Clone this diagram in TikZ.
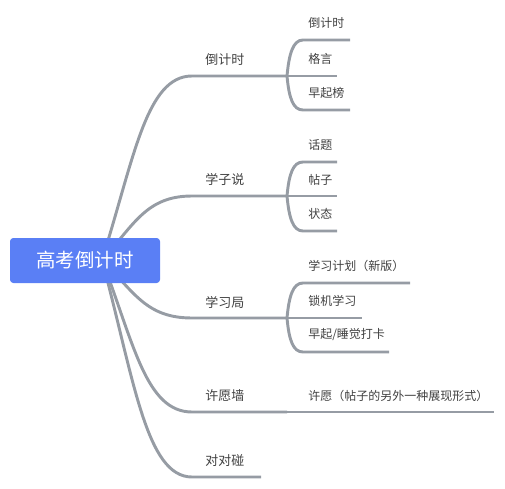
\documentclass[tikz,border=0pt]{standalone}
\usepackage{fontspec}
\newfontfamily\cjk{Noto Sans CJK SC}
\usetikzlibrary{backgrounds}
\definecolor{rootblue}{RGB}{90,127,245}
\definecolor{linegray}{RGB}{150,156,164}
\definecolor{labelgray}{RGB}{64,64,64}
\tikzset{
    root/.style={fill=rootblue,rounded corners=2.5pt,text=white,inner sep=0pt,
        minimum width=112.5pt,minimum height=33.75pt,font=\cjk\fontsize{14.6}{16}\selectfont},
    mainlabel/.style={anchor=west,inner sep=0pt,text=labelgray,font=\cjk\fontsize{9.75}{11}\selectfont},
    sublabel/.style={anchor=west,inner sep=0pt,text=labelgray,font=\cjk\fontsize{9}{10}\selectfont},
    branch/.style={draw=linegray,line width=2.2pt}
}

\begin{document}
\begin{tikzpicture}[x=0.75pt,y=-0.75pt]
    \useasboundingbox (0,0) rectangle (505,488);
    \node[root] (root) at (85,260.5) {高考倒计时};
    \coordinate (hub) at (102,260);

    % main branches
    \coordinate (m1) at (192,76);  \coordinate (f1) at (287,76);
    \coordinate (m2) at (192,196); \coordinate (f2) at (287,196);
    \coordinate (m3) at (192,318); \coordinate (f3) at (287,318);
    \coordinate (m4) at (192,412); \coordinate (f4) at (287,412);
    \coordinate (m5) at (192,477); \coordinate (f5) at (261,477);
    \node[mainlabel] (lbl1) at (205,60) {倒计时};
    \node[mainlabel] (lbl2) at (205,180) {学子说};
    \node[mainlabel] (lbl3) at (205,302) {学习局};
    \node[mainlabel] (lbl4) at (205,396) {许愿墙};
    \node[mainlabel] (lbl5) at (205,461) {对对碰};

    % children
    \coordinate (s1a) at (303,40);  \coordinate (e1a) at (350,40);
    \coordinate (e1b) at (337,76);
    \coordinate (s1c) at (303,110); \coordinate (e1c) at (350,110);
    \coordinate (s2a) at (303,162); \coordinate (e2a) at (337,162);
    \coordinate (e2b) at (337,196);
    \coordinate (s2c) at (303,231); \coordinate (e2c) at (337,231);
    \coordinate (s3a) at (303,283); \coordinate (e3a) at (410,283);
    \coordinate (e3b) at (362,318);
    \coordinate (s3c) at (303,352); \coordinate (e3c) at (389,352);
    \coordinate (e4a) at (494,412);
    \node[sublabel] (sub1a) at (308,23) {倒计时};
    \node[sublabel] (sub1b) at (308,59) {格言};
    \node[sublabel] (sub1c) at (308,93) {早起榜};
    \node[sublabel] (sub2a) at (308,145) {话题};
    \node[sublabel] (sub2b) at (308,180) {帖子};
    \node[sublabel] (sub2c) at (308,214) {状态};
    \node[sublabel] (sub3a) at (308,266) {学习计划（新版）};
    \node[sublabel] (sub3b) at (308,301) {锁机学习};
    \node[sublabel] (sub3c) at (308,335) {早起/睡觉打卡};
    \node[sublabel] (sub4a) at (308,396) {许愿（帖子的另外一种展现形式）};

    \begin{scope}[on background layer]
        \draw[branch] (hub) .. controls +(32,-101) and +(-46,0) .. (m1) -- (f1);
        \draw[branch] (hub) .. controls +(32,-35) and +(-46,0) .. (m2) -- (f2);
        \draw[branch] (hub) .. controls +(32,32) and +(-46,0) .. (m3) -- (f3);
        \draw[branch] (hub) .. controls +(32,84) and +(-46,0) .. (m4) -- (f4);
        \draw[branch] (hub) .. controls +(32,119) and +(-46,0) .. (m5) -- (f5);
        % sub branches
        \draw[branch] (f1) .. controls +(2,-22) and +(-10,0) .. (s1a) -- (e1a);
        \draw[branch] (f1) -- (e1b);
        \draw[branch] (f1) .. controls +(2,22) and +(-10,0) .. (s1c) -- (e1c);
        \draw[branch] (f2) .. controls +(2,-22) and +(-10,0) .. (s2a) -- (e2a);
        \draw[branch] (f2) -- (e2b);
        \draw[branch] (f2) .. controls +(2,22) and +(-10,0) .. (s2c) -- (e2c);
        \draw[branch] (f3) .. controls +(2,-22) and +(-10,0) .. (s3a) -- (e3a);
        \draw[branch] (f3) -- (e3b);
        \draw[branch] (f3) .. controls +(2,22) and +(-10,0) .. (s3c) -- (e3c);
        \draw[branch] (f4) -- (e4a);
    \end{scope}
\end{tikzpicture}
\end{document}
